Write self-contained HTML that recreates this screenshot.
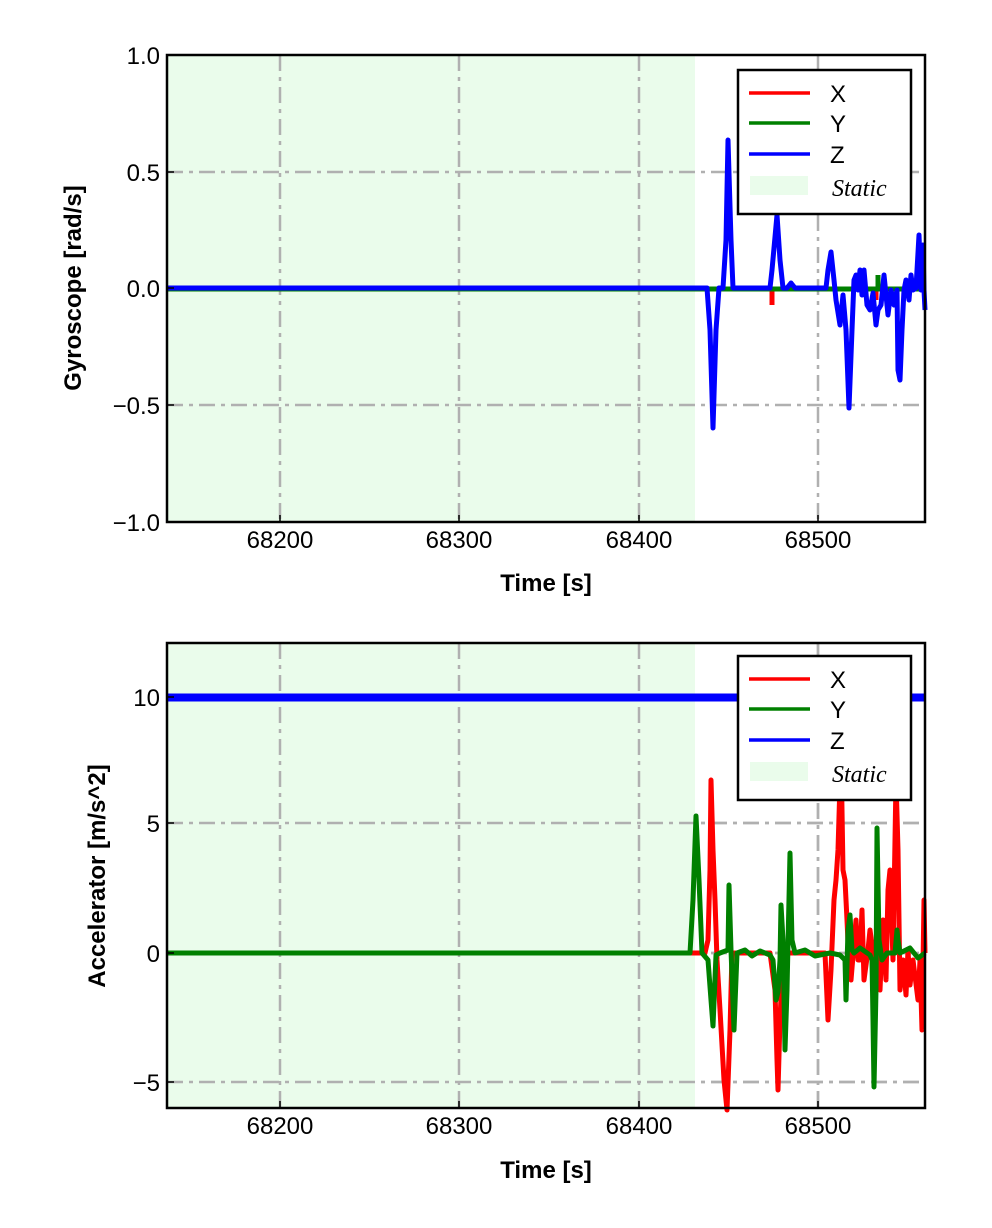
<!DOCTYPE html><html><head><meta charset="utf-8"><style>body{margin:0;background:#fff}svg{display:block}</style></head><body>
<svg width="992" height="1228" xmlns="http://www.w3.org/2000/svg" font-family="Liberation Sans, sans-serif">
<rect width="992" height="1228" fill="#fff"/>
<!-- TOP -->
<rect x="167" y="55" width="528" height="467" fill="#eafceb"/>
<g stroke="#b0b0b0" stroke-width="2.5" stroke-dasharray="16,6,4,6" fill="none">
<path d="M280 55V522M459 55V522M639 55V522M818 55V522M167 172H925M167 405H925"/>
<path d="M280 643V1108M459 643V1108M639 643V1108M818 643V1108M167 697H925M167 823H925M167 953H925M167 1082H925"/>
</g>
<g fill="none" stroke-width="5" stroke-linejoin="round">
<path stroke="#ff0000" d="M772 288V305M876 288V300"/>
<path stroke="#008000" d="M167 289H925M878 288V275"/>
<polyline stroke="#0000ff" points="167,288 697,288 707,288 710,330 713,428 716,330 719,288 723,288 726,240 728,140 731,240 733,288 770,288 772,270 777,215 780,260 783,288 787,288 791,283 795,288 826,288 828,270 831,252 834,280 836,300 840,325 843,295 846,330 849,408 852,330 854,280 856,275 858,290 860,270 862,295 864,270 867,305 870,310 873,293 876,325 878,310 881,305 884,275 886,295 888,315 891,290 894,305 897,290 898,370 900,380 902,330 904,290 906,280 909,300 911,275 913,290 916,288 919,235 921,290 923,245 924,290 925,310"/>
</g>
<rect x="167" y="55" width="758" height="467" fill="none" stroke="#000" stroke-width="2.5"/>
<g stroke="#000" stroke-width="1.5"><path d="M280 522v-7M459 522v-7M639 522v-7M818 522v-7M167 55h7M167 172h7M167 288h7M167 405h7M167 522h7"/></g>
<g font-size="24" text-anchor="end"><text x="160" y="64">1.0</text><text x="160" y="181">0.5</text><text x="160" y="297">0.0</text><text x="160" y="414">−0.5</text><text x="160" y="531">−1.0</text></g>
<g font-size="24" text-anchor="middle"><text x="280" y="548">68200</text><text x="459" y="548">68300</text><text x="639" y="548">68400</text><text x="818" y="548">68500</text></g>
<text x="546" y="591" font-size="24" font-weight="bold" text-anchor="middle">Time [s]</text>
<text transform="translate(81,288) rotate(-90)" font-size="24" font-weight="bold" text-anchor="middle">Gyroscope [rad/s]</text>
<rect x="738" y="70" width="173" height="144" fill="#fff" stroke="#000" stroke-width="2.5"/>
<g stroke-width="3.5"><path stroke="#ff0000" d="M749 93H810"/><path stroke="#008000" d="M749 123H810"/><path stroke="#0000ff" d="M749 154H810"/></g>
<rect x="750" y="176" width="58" height="19" fill="#eafceb"/>
<g font-size="24"><text x="830" y="102">X</text><text x="830" y="132">Y</text><text x="830" y="163">Z</text></g>
<text x="832" y="196" font-size="24" font-style="italic" style="font-family:'Liberation Serif',serif">Static</text>
<!-- BOTTOM -->
<rect x="167" y="643" width="528" height="465" fill="#eafceb"/>
<g stroke="#b0b0b0" stroke-width="2.5" stroke-dasharray="16,6,4,6" fill="none">
<path d="M280 643V1108M459 643V1108M639 643V1108M818 643V1108M167 697H925M167 823H925M167 953H925M167 1082H925"/>
</g>
<g fill="none" stroke-width="5" stroke-linejoin="round">
<path stroke="#0000ff" stroke-width="8" d="M167 697.5H925"/>
<polyline stroke="#ff0000" points="167,953 705,953 708,940 710,870 711,780 713,850 715,900 717,960 720,1010 724,1080 727,1110 730,1030 732,953 770,953 775,990 777,1060 778,1090 780,1020 783,953 825,953 828,1020 831,970 834,900 836,880 838,850 841,750 843,870 845,880 847,920 849,965 851,980 856,920 858,960 860,960 862,910 864,980 868,950 870,930 874,960 877,935 880,990 883,920 886,980 888,890 890,870 893,960 896,780 898,850 900,990 903,960 906,995 908,950 910,985 913,960 918,1000 920,960 922,1030 924,900 925,953"/>
<polyline stroke="#008000" points="167,953 690,953 693,900 696,816 699,880 702,953 708,960 711,1000 713,1026 716,955 720,953 728,950 729,885 731,950 734,1030 737,953 745,950 752,956 760,951 770,955 773,960 776,1000 778,992 780,960 781,905 783,940 785,1050 787,990 790,853 792,940 795,953 805,950 815,956 830,953 840,955 845,960 846,1000 848,930 850,915 852,950 854,953 860,948 870,955 872,960 873,1020 874,1087 876,990 877,828 879,940 882,960 887,953 895,953 897,930 898,940 900,953 910,948 918,958 925,953"/>
</g>
<rect x="167" y="643" width="758" height="465" fill="none" stroke="#000" stroke-width="2.5"/>
<g stroke="#000" stroke-width="1.5"><path d="M280 1108v-7M459 1108v-7M639 1108v-7M818 1108v-7M167 697h7M167 823h7M167 953h7M167 1082h7"/></g>
<g font-size="24" text-anchor="end"><text x="160" y="706">10</text><text x="160" y="832">5</text><text x="160" y="962">0</text><text x="160" y="1091">−5</text></g>
<g font-size="24" text-anchor="middle"><text x="280" y="1134">68200</text><text x="459" y="1134">68300</text><text x="639" y="1134">68400</text><text x="818" y="1134">68500</text></g>
<text x="546" y="1178" font-size="24" font-weight="bold" text-anchor="middle">Time [s]</text>
<text transform="translate(105,876) rotate(-90)" font-size="24" font-weight="bold" text-anchor="middle">Accelerator [m/s^2]</text>
<rect x="738" y="656" width="173" height="144" fill="#fff" stroke="#000" stroke-width="2.5"/>
<g stroke-width="3.5"><path stroke="#ff0000" d="M749 679H810"/><path stroke="#008000" d="M749 709H810"/><path stroke="#0000ff" d="M749 740H810"/></g>
<rect x="750" y="762" width="58" height="19" fill="#eafceb"/>
<g font-size="24"><text x="830" y="688">X</text><text x="830" y="718">Y</text><text x="830" y="749">Z</text></g>
<text x="832" y="782" font-size="24" font-style="italic" style="font-family:'Liberation Serif',serif">Static</text>
</svg>
</body></html>
